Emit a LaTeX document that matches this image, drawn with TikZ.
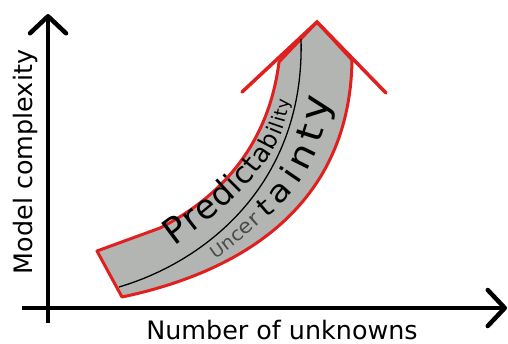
\documentclass[tikz,border=0pt]{standalone}
\usepackage{fontspec}
\setmainfont{DejaVu Sans}
\newfontfamily\widefont[FakeStretch=1.16]{DejaVu Sans}
\newfontfamily\midfont[FakeStretch=1.08]{DejaVu Sans}
\usetikzlibrary{arrows.meta,decorations.text}
\definecolor{Ink}{HTML}{000000}
\definecolor{Band}{HTML}{B3B5B3}
\definecolor{Edge}{HTML}{E0201F}
\definecolor{Faint}{HTML}{4A4A4A}
\newcommand{\figbackground}[2]{
  \path[use as bounding box] (0,0) rectangle (#1,#2);
  \fill[white] (0,0) rectangle (#1,#2);
}
\newcommand{\lsz}[1]{\fontsize{#1}{#1}\selectfont}
\newcommand{\msz}[1]{\midfont\lsz{#1}}
\newcommand{\wsz}[1]{\widefont\lsz{#1}}

\begin{document}
\begin{tikzpicture}[x=1bp,y=-1bp]
  \figbackground{508}{343}

  % axes and their labels
  \coordinate (ybot) at (48,323);
  \coordinate (ytop) at (48,14);
  \coordinate (xleft) at (22,308);
  \coordinate (xright) at (507,308);
  \draw[Ink,line width=4.5bp,-{Straight Barb[length=17bp,width=36bp,round]}]
    (ybot) -- (ytop);
  \draw[Ink,line width=4.5bp,-{Straight Barb[length=17bp,width=36bp,round]}]
    (xleft) -- (xright);
  \node[font=\lsz{25.5},anchor=base,inner sep=0bp] (xlabel) at (282,339.5)
    {Number of unknowns};
  \node[font=\lsz{25.5},anchor=base,rotate=90,inner sep=0bp] (ylabel) at (32,162)
    {Model complexity};

  % the bent band with its open head
  \coordinate (tip) at (317,22);
  \coordinate (wingL) at (242,92);
  \coordinate (wingR) at (386,93);
  \coordinate (joinL) at (279,62);
  \coordinate (joinR) at (352,60);
  \coordinate (tailA) at (97,251);
  \coordinate (tailB) at (122,297);
  \coordinate (kink) at (160,228);
  \filldraw[fill=Band,draw=Edge,line width=3bp,line join=round]
    (joinL) -- (tip) -- (joinR) .. controls (350,200) and (250,270) .. (tailB)
    -- (tailA) -- (kink) .. controls (215,200) and (268,150) .. (joinL) -- cycle;
  \draw[Edge,line width=3.5bp,line cap=round] (wingL) -- (tip) -- (wingR);
  \draw[Ink,line width=1.3bp] (119,287) .. controls (210,260) and (305,180) .. (301,39);

  \path[decorate,decoration={text along path,text align=fit to path,
    text={|\lsz{36}|P|\lsz{35}|r|\lsz{34}|e|\lsz{33}|d|\lsz{31}|i|\lsz{30}|c|\lsz{28}|t%
      |\lsz{26}|a|\lsz{24}|b|\lsz{22}|i|\lsz{20}|l|\lsz{19}|i|\lsz{18}|t|\lsz{17}|y}}]
    (174,246) .. controls (214,216) and (286,165) .. (289,100);
  \path[decorate,decoration={text along path,text align=fit to path,
    text={|\color{Faint}\msz{17}|U|\color{Faint}\msz{18}|n|\color{Faint}\msz{19}|c%
      |\color{Faint}\msz{20}|e|\color{Faint}\msz{21}|r}}]
    (215,259) .. controls (232,248) and (250,232) .. (262,221);
  \path[decorate,decoration={text along path,text align=fit to path,
    text={|\wsz{27}|t|\wsz{30}|a|\wsz{32}|i|\wsz{34}|n|\wsz{36}|t|\wsz{38}|y}}]
    (266,218) .. controls (298,193) and (326,150) .. (329,97);
\end{tikzpicture}
\end{document}
